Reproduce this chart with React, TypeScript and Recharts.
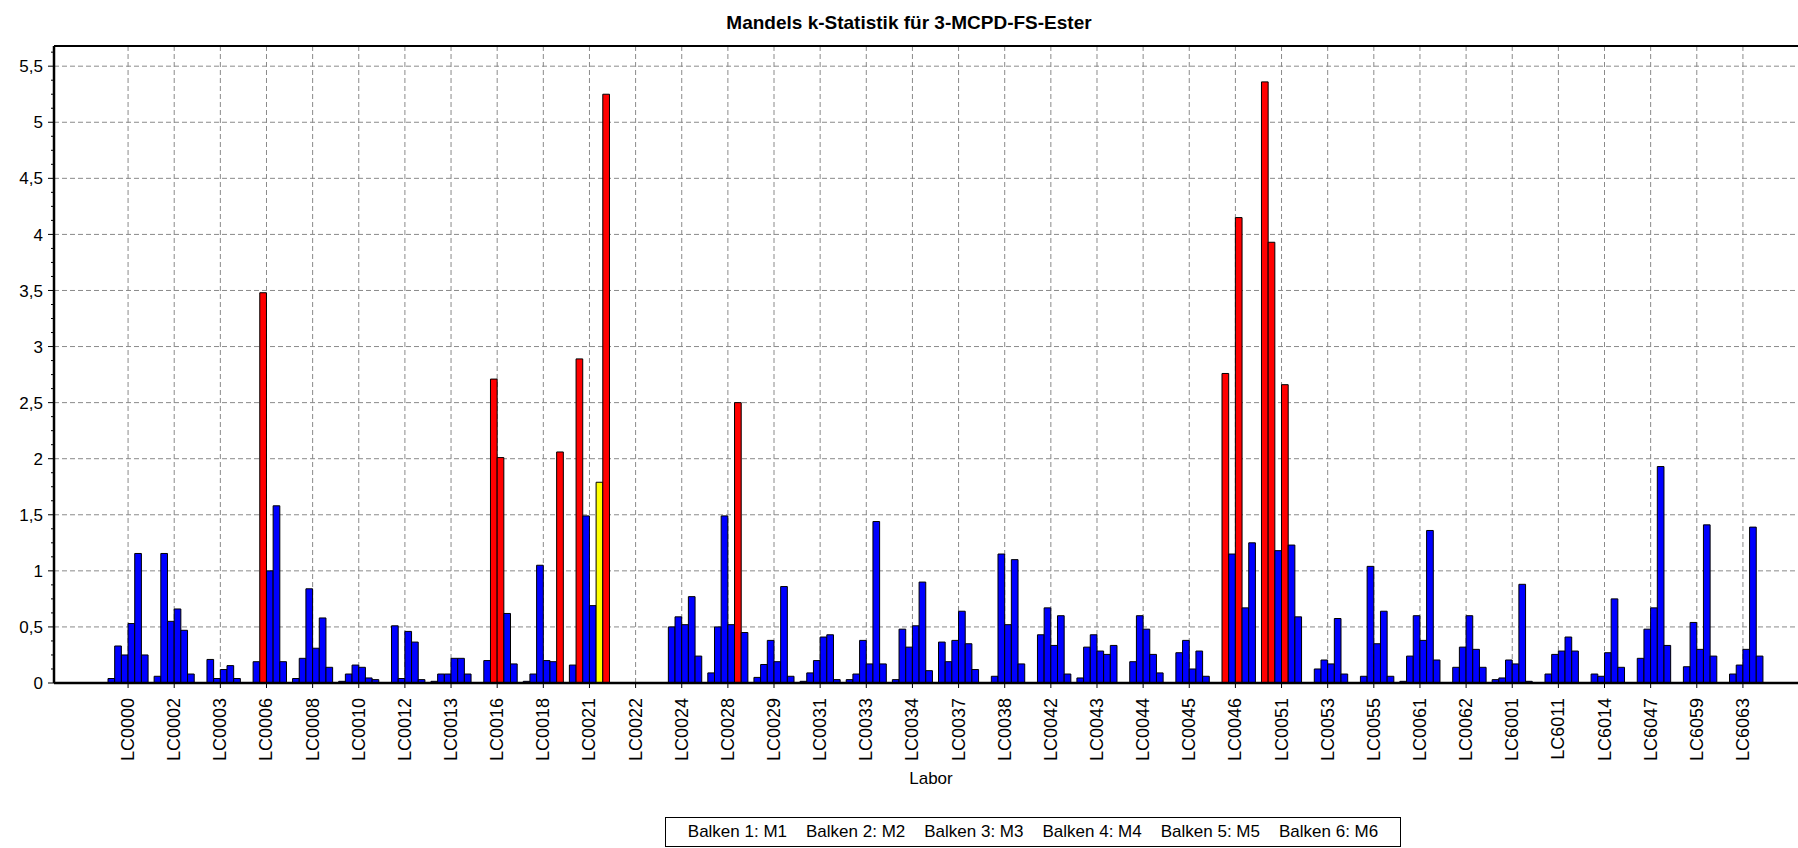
import React from 'react';
import { BarChart, Bar, XAxis, YAxis, CartesianGrid, Cell, ReferenceLine } from 'recharts';

const FONT = '"Liberation Sans", Arial, sans-serif';

const title = 'Mandels k-Statistik für 3-MCPD-FS-Ester';
const xAxisTitle = 'Labor';

const labs = [
  'LC0000', 'LC0002', 'LC0003', 'LC0006', 'LC0008', 'LC0010', 'LC0012', 'LC0013', 'LC0016',
  'LC0018', 'LC0021', 'LC0022', 'LC0024', 'LC0028', 'LC0029', 'LC0031', 'LC0033', 'LC0034',
  'LC0037', 'LC0038', 'LC0042', 'LC0043', 'LC0044', 'LC0045', 'LC0046', 'LC0051', 'LC0053',
  'LC0055', 'LC0061', 'LC0062', 'LC6001', 'LC6011', 'LC6014', 'LC6047', 'LC6059', 'LC6063',
];

const m1 = [0.04, 0.06, 0, 0, 0.04, 0.015, 0, 0.015, 0, 0.015, 0.16, 0, 0, 0.09, 0.05, 0.015, 0.03, 0.03, 0.365, 0, 0, 0.045, 0, 0, 0, 5.36, 0, 0, 0.015, 0, 0.03, 0, 0, 0, 0, 0];
const m2 = [0.33, 1.155, 0.21, 0.19, 0.22, 0.08, 0.51, 0.08, 0.2, 0.08, 2.89, 0, 0.5, 0.5, 0.165, 0.09, 0.08, 0.48, 0.19, 0.06, 0.43, 0.32, 0.19, 0.27, 2.76, 3.93, 0.125, 0.06, 0.24, 0.14, 0.045, 0.08, 0.08, 0.22, 0.145, 0.08];
const m3 = [0.25, 0.55, 0.04, 3.48, 0.84, 0.16, 0.04, 0.08, 2.71, 1.05, 1.49, 0, 0.59, 1.49, 0.38, 0.2, 0.38, 0.32, 0.38, 1.15, 0.67, 0.43, 0.6, 0.38, 1.15, 1.18, 0.205, 1.04, 0.6, 0.32, 0.205, 0.255, 0.06, 0.48, 0.54, 0.16];
const m4 = [0.53, 0.66, 0.12, 1.0, 0.31, 0.14, 0.46, 0.22, 2.01, 0.2, 0.69, 0, 0.52, 0.52, 0.19, 0.41, 0.17, 0.51, 0.64, 0.52, 0.335, 0.285, 0.48, 0.125, 4.15, 2.66, 0.17, 0.35, 0.38, 0.6, 0.17, 0.285, 0.27, 0.67, 0.3, 0.3];
const m5 = [1.155, 0.47, 0.155, 1.58, 0.58, 0.045, 0.365, 0.22, 0.62, 0.19, 1.79, 0, 0.77, 2.5, 0.86, 0.43, 1.44, 0.9, 0.35, 1.1, 0.6, 0.255, 0.255, 0.285, 0.67, 1.23, 0.575, 0.64, 1.36, 0.3, 0.88, 0.41, 0.75, 1.93, 1.41, 1.39];
const m6 = [0.25, 0.08, 0.04, 0.19, 0.14, 0.03, 0.03, 0.08, 0.17, 2.06, 5.25, 0, 0.24, 0.45, 0.06, 0.03, 0.17, 0.11, 0.12, 0.17, 0.08, 0.335, 0.09, 0.06, 1.25, 0.59, 0.08, 0.06, 0.205, 0.14, 0.015, 0.285, 0.14, 0.335, 0.24, 0.24];

const seriesKeys = ['m1', 'm2', 'm3', 'm4', 'm5', 'm6'];
const legendLabels = ['Balken 1: M1', 'Balken 2: M2', 'Balken 3: M3', 'Balken 4: M4', 'Balken 5: M5', 'Balken 6: M6'];

// cells flagged by the test: [lab, series number]
const redCells: [string, number][] = [
  ['LC0006', 3], ['LC0016', 3], ['LC0016', 4], ['LC0018', 6], ['LC0021', 2], ['LC0021', 6],
  ['LC0028', 5], ['LC0046', 2], ['LC0046', 4], ['LC0051', 1], ['LC0051', 2], ['LC0051', 4],
];
const yellowCells: [string, number][] = [['LC0021', 5]];

const yMax = 5.68;
const yMajorTicks = [0, 0.5, 1, 1.5, 2, 2.5, 3, 3.5, 4, 4.5, 5, 5.5];
const yTickLabels = ['0', '0,5', '1', '1,5', '2', '2,5', '3', '3,5', '4', '4,5', '5', '5,5'];
const yMinorTicks = [
  0, 0.125, 0.25, 0.375, 0.5, 0.625, 0.75, 0.875, 1, 1.125, 1.25, 1.375, 1.5, 1.625, 1.75, 1.875,
  2, 2.125, 2.25, 2.375, 2.5, 2.625, 2.75, 2.875, 3, 3.125, 3.25, 3.375, 3.5, 3.625, 3.75, 3.875,
  4, 4.125, 4.25, 4.375, 4.5, 4.625, 4.75, 4.875, 5, 5.125, 5.25, 5.375, 5.5, 5.625,
];

const BLUE = '#0000FF';
const RED = '#FF0000';
const YELLOW = '#FFFF00';

const data = labs.map((lab, i) => ({ lab, m1: m1[i], m2: m2[i], m3: m3[i], m4: m4[i], m5: m5[i], m6: m6[i] }));

const colorFor = (lab: string, series: number) => {
  if (redCells.some(([l, s]) => l === lab && s === series)) return RED;
  if (yellowCells.some(([l, s]) => l === lab && s === series)) return YELLOW;
  return BLUE;
};

const YTick = (props: any) => {
  const { x, y, payload } = props;
  const idx = yMajorTicks.indexOf(payload.value);
  if (idx >= 0) {
    return (
      <g>
        <line x1={x - 6} x2={x} y1={y} y2={y} stroke="#000" strokeWidth={1} />
        <text x={x - 11} y={y} dy="0.36em" textAnchor="end" fill="#000" fontSize={17} fontFamily={FONT}>
          {yTickLabels[idx]}
        </text>
      </g>
    );
  }
  return <line x1={x - 3} x2={x} y1={y} y2={y} stroke="#000" strokeWidth={1} />;
};

const XTick = (props: any) => {
  const { x, y, payload } = props;
  return (
    <text
      transform={`translate(${x + 6},${y + 8}) rotate(-90)`}
      textAnchor="end"
      fill="#000"
      fontSize={18}
      fontFamily={FONT}
    >
      {payload.value}
    </text>
  );
};

export default function App() {
  return (
    <div style={{ position: 'absolute', left: 0, top: 0, width: 1798, height: 848, background: '#fff', fontFamily: FONT }}>
      <BarChart
        width={1798}
        height={848}
        data={data}
        margin={{ top: 46, right: 0, bottom: 0, left: 0 }}
        barGap={0}
        barSize={6.68}
      >
        <CartesianGrid stroke="#8a8a8a" strokeDasharray="5 3" horizontalValues={yMajorTicks} verticalValues={labs} />
        <XAxis
          dataKey="lab"
          interval={0}
          tick={<XTick />}
          tickSize={5}
          tickLine={{ stroke: '#000' }}
          axisLine={{ stroke: '#000', strokeWidth: 2.5 }}
          height={165}
          padding={{ left: 51, right: 32 }}
          label={{ value: xAxisTitle, position: 'insideBottom', offset: 64, dx: 5, fill: '#000', fontSize: 17, fontFamily: FONT }}
        />
        <YAxis
          type="number"
          domain={[0, yMax]}
          ticks={yMinorTicks}
          interval={0}
          tickSize={0}
          tickMargin={0}
          tickLine={false}
          tick={<YTick />}
          axisLine={{ stroke: '#000', strokeWidth: 2.5 }}
          width={54}
          allowDataOverflow
        />
        <ReferenceLine y={yMax} stroke="#000" strokeWidth={2} />
        {seriesKeys.map((key, si) => (
          <Bar key={key} dataKey={key} name={legendLabels[si]} isAnimationActive={false} stroke="#000" strokeWidth={1}>
            {data.map((d, i) => (
              <Cell key={i} fill={colorFor(d.lab, si + 1)} />
            ))}
          </Bar>
        ))}
      </BarChart>
      <div
        style={{
          position: 'absolute', top: 12, left: 609, width: 600, textAlign: 'center',
          fontWeight: 'bold', fontSize: 19, lineHeight: '22px', color: '#000',
        }}
      >
        {title}
      </div>
      <div
        style={{
          position: 'absolute', left: 665, top: 817, width: 736, height: 30, boxSizing: 'border-box',
          border: '1px solid #000', display: 'flex', justifyContent: 'center', alignItems: 'center',
          gap: 19, fontSize: 17, color: '#000', background: '#fff',
        }}
      >
        {legendLabels.map((l) => (
          <span key={l}>{l}</span>
        ))}
      </div>
    </div>
  );
}
